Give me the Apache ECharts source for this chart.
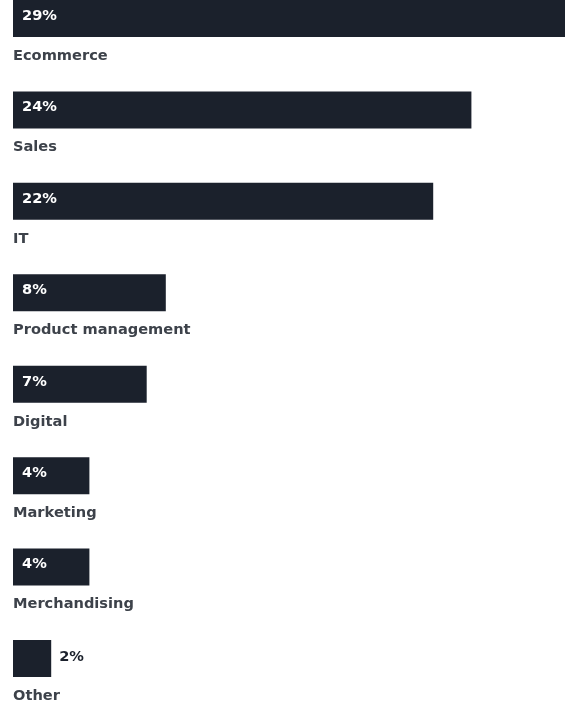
<!DOCTYPE html>
<html>
<head>
<meta charset="utf-8">
<script src="https://cdn.jsdelivr.net/npm/echarts@6/dist/echarts.min.js"></script>
<style>
  html, body { margin: 0; padding: 0; background: #ffffff; }
  #chart { width: 565px; height: 710px; }
</style>
</head>
<body>
<div id="chart"></div>
<script>
// Share of roles by department (percent)
const categories = ['Ecommerce', 'Sales', 'IT', 'Product management', 'Digital', 'Marketing', 'Merchandising', 'Other'];
const values = [29, 24, 22, 8, 7, 4, 4, 2];
// Bars narrower than this get their value label outside
const insideLabelMin = 3;

const barColor = '#1b212c';
const nameColor = '#3d424a';
const fontFamily = '"DejaVu Sans", sans-serif';
const fontSize = 14.6;

const chart = echarts.init(document.getElementById('chart'), null, { renderer: 'canvas' });

chart.setOption({
  animation: false,
  grid: { left: 13, right: 0, top: 18.5, height: 640, containLabel: false },
  xAxis: {
    type: 'value',
    min: 0,
    max: 28.9,
    show: false
  },
  yAxis: {
    type: 'category',
    data: categories,
    inverse: true,
    boundaryGap: false,
    show: false
  },
  series: [{
    type: 'bar',
    data: values.map(v => ({
      value: v,
      label: v < insideLabelMin
        ? { position: 'right', distance: 8, offset: [0, -1], color: barColor }
        : { position: 'insideLeft', distance: 9, offset: [0, -2.5], color: '#ffffff' }
    })),
    barWidth: 37,
    clip: false,
    itemStyle: { color: barColor },
    label: {
      show: true,
      formatter: p => p.value + '%',
      fontFamily: fontFamily,
      fontWeight: 'bold',
      fontSize: fontSize
    }
  }, {
    // Category names written under each bar
    type: 'scatter',
    data: categories.map(c => [0, c]),
    symbolSize: 0,
    silent: true,
    clip: false,
    itemStyle: { opacity: 1 },
    label: {
      show: true,
      position: 'right',
      distance: 0,
      offset: [0, 37.5],
      formatter: p => p.value[1],
      color: nameColor,
      opacity: 1,
      fontFamily: fontFamily,
      fontWeight: 'bold',
      fontSize: fontSize
    }
  }]
});
</script>
</body>
</html>
